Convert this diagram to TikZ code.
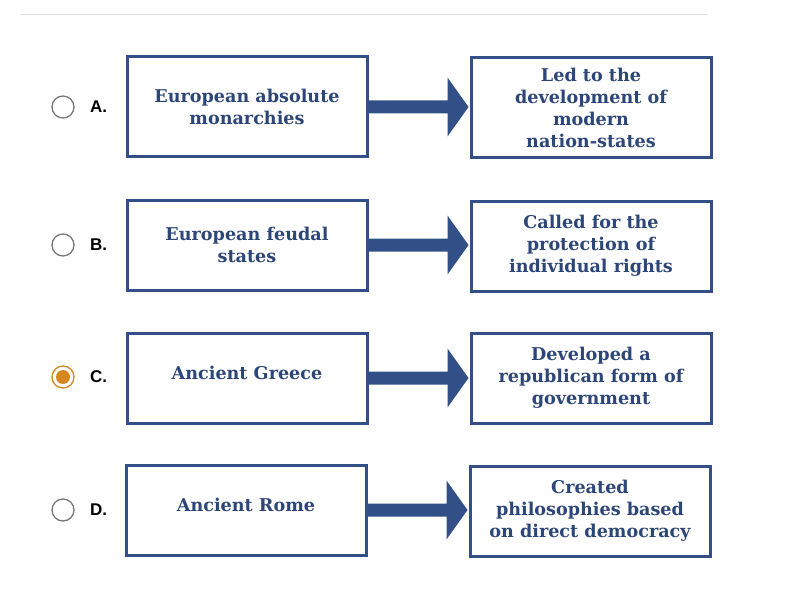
\documentclass[tikz,border=0pt]{standalone}
\usepackage{fontspec}
\setmainfont{DejaVu Serif}
\newfontfamily\labfont{Liberation Sans}
\definecolor{boxblue}{RGB}{50,80,135}
\definecolor{txtblue}{RGB}{45,70,120}
\definecolor{radiogray}{RGB}{120,120,120}
\definecolor{radioorange}{RGB}{214,135,30}
\begin{document}
\begin{tikzpicture}[x=1pt,y=-1pt,
  cbox/.style={draw=boxblue,line width=3pt,minimum width=240pt,inner sep=1pt,
    align=center,text=txtblue,font=\fontsize{17.6}{22}\selectfont\bfseries},
  oneline/.style={text depth=10pt},
  optlabel/.style={font=\labfont\fontsize{17}{20}\selectfont\bfseries,text=black,anchor=west,inner sep=0pt},
  radio/.style={circle,draw=radiogray,line width=1.3pt,minimum size=22pt,inner sep=0pt},
  bigarrow/.style={fill=boxblue}]
\useasboundingbox (0,0) rectangle (798,615);
\fill[white] (0,0) rectangle (798,615);
\draw[gray!25,line width=1pt] (20,15) -- (708,15);

\newcommand\rowarrow[2]{%
  \fill[bigarrow] (#1.east) ++(0,-6.5) -- ++(79,0) -- ++(0,-23) -- ++(21,29.5) -- ++(-21,29.5) -- ++(0,-23) -- ++(-79,0) -- cycle;}

% Row A
\node[radio] (ra) at (63,107) {};
\node[optlabel] (la) at (90,107) {A.};
\node[cbox,minimum height=100pt] (a1) at (247,107) {European absolute\\monarchies};
\node[cbox,minimum height=100pt] (a2) at (591,108) {Led to the\\development of\\modern\\nation-states};
\rowarrow{a1}{a2}

% Row B
\node[radio] (rb) at (63,245) {};
\node[optlabel] (lb) at (90,245) {B.};
\node[cbox,minimum height=90pt] (b1) at (247,245) {European feudal\\states};
\node[cbox,minimum height=90pt] (b2) at (591,246) {Called for the\\protection of\\individual rights};
\rowarrow{b1}{b2}

% Row C
\node[radio,draw=radioorange] (rc) at (63,377) {};
\fill[radioorange] (rc.center) circle (7pt);
\node[optlabel] (lc) at (90,377) {C.};
\node[cbox,oneline,minimum height=90pt] (c1) at (247,378) {Ancient Greece};
\node[cbox,minimum height=90pt] (c2) at (591,378) {Developed a\\republican form of\\government};
\rowarrow{c1}{c2}

% Row D
\node[radio] (rd) at (63,510) {};
\node[optlabel] (ld) at (90,510) {D.};
\node[cbox,oneline,minimum height=90pt] (d1) at (246,510) {Ancient Rome};
\node[cbox,minimum height=90pt] (d2) at (590,511) {Created\\philosophies based\\on direct democracy};
\rowarrow{d1}{d2}
\end{tikzpicture}
\end{document}
